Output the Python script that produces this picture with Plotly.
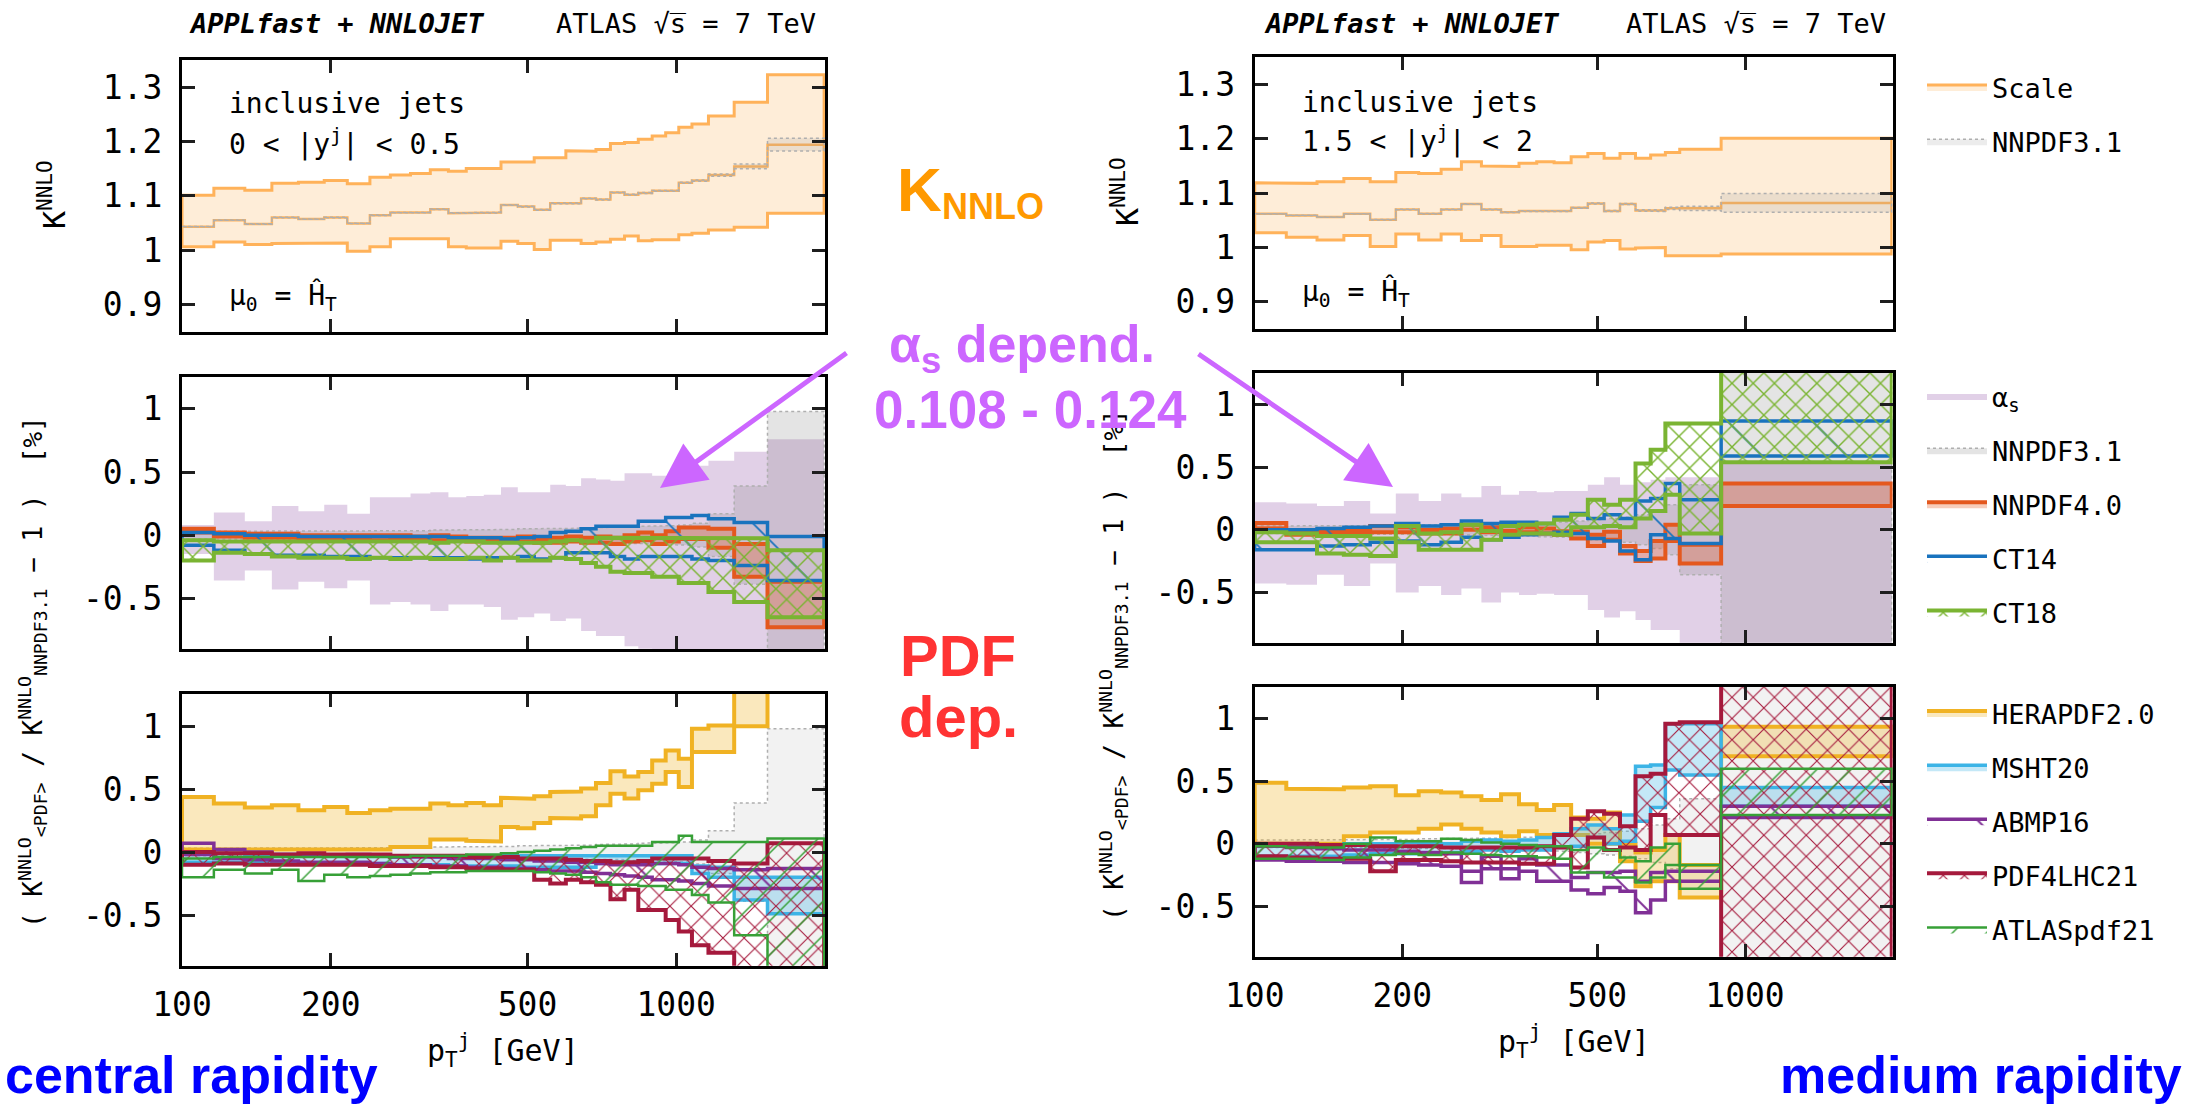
import plotly.graph_objects as go

W, H = 2193, 1106

# ---------------- data ----------------
L_EDGES = [100, 116, 134, 152, 172, 194, 216, 240, 264, 290, 318, 346, 376, 408, 442, 478,
           516, 556, 598, 642, 688, 736, 786, 838, 894, 952, 1012, 1076, 1162, 1310, 1530, 1992]
R_EDGES = [100, 116, 134, 152, 172, 194, 216, 240, 264, 290, 318, 346, 376, 408, 442, 478,
           516, 556, 598, 642, 688, 736, 894, 1992]

# central rapidity, K-factor (scale band)
L_SCALE_UP = [1.101, 1.114, 1.110, 1.123, 1.125, 1.128, 1.122, 1.134, 1.138, 1.141, 1.148, 1.145, 1.150, 1.150,
              1.162, 1.162, 1.170, 1.170, 1.183, 1.182, 1.185, 1.196, 1.198, 1.204, 1.210, 1.216, 1.226, 1.232,
              1.247, 1.272, 1.323]
L_SCALE_LO = [1.006, 1.015, 1.010, 1.012, 1.012, 1.013, 0.998, 1.006, 1.021, 1.021, 1.021, 1.006, 1.004, 1.004,
              1.016, 1.012, 1.001, 1.018, 1.018, 1.012, 1.015, 1.020, 1.026, 1.017, 1.019, 1.019, 1.028, 1.031,
              1.037, 1.042, 1.068]
L_CENTRAL = [1.043, 1.055, 1.048, 1.060, 1.057, 1.060, 1.049, 1.064, 1.069, 1.069, 1.075, 1.068, 1.069, 1.069,
             1.083, 1.080, 1.074, 1.086, 1.086, 1.095, 1.093, 1.106, 1.102, 1.105, 1.109, 1.109, 1.124, 1.128,
             1.138, 1.154, 1.194]
L_NN31_HW = [0.03, 0.03, 0.03, 0.03, 0.03, 0.03, 0.03, 0.035, 0.035, 0.035, 0.04, 0.04, 0.04, 0.045, 0.045,
             0.05, 0.05, 0.05, 0.055, 0.055, 0.06, 0.06, 0.065, 0.07, 0.07, 0.075, 0.08, 0.095, 0.17, 0.39, 0.98]

# central rapidity, middle panel (%)
L_AS_UP = [0.08, 0.18, 0.11, 0.23, 0.19, 0.24, 0.17, 0.30, 0.30, 0.33, 0.34, 0.30, 0.31, 0.32, 0.38, 0.34,
           0.34, 0.40, 0.39, 0.45, 0.44, 0.43, 0.49, 0.49, 0.47, 0.47, 0.55, 0.55, 0.59, 0.66, 0.76]
L_AS_LO = [-0.15, -0.36, -0.28, -0.43, -0.37, -0.42, -0.36, -0.55, -0.53, -0.55, -0.60, -0.55, -0.55, -0.57,
           -0.67, -0.65, -0.62, -0.68, -0.66, -0.76, -0.80, -0.80, -0.88, -0.90, -0.92, -0.92, -1.0, -1.0,
           -1.0, -1.1, -1.2]
L_NN40_UP = [0.05, 0.02, 0.01, 0.01, 0.0, 0.0, 0.0, 0.0, 0.0, -0.01, 0.0, -0.01, -0.02, -0.02, -0.02, -0.01,
             -0.03, -0.02, -0.01, -0.02, -0.01, -0.02, 0.0, 0.02, 0.0, 0.03, 0.06, 0.06, 0.05, -0.07, -0.37]
L_NN40_LO = [0.02, -0.01, -0.02, -0.02, -0.03, -0.03, -0.03, -0.04, -0.03, -0.04, -0.04, -0.04, -0.05, -0.05,
             -0.05, -0.05, -0.06, -0.06, -0.05, -0.06, -0.06, -0.07, -0.05, -0.04, -0.07, -0.05, -0.03, -0.03,
             -0.10, -0.33, -0.73]
L_CT14_UP = [0.02, 0.01, 0.0, 0.0, -0.01, -0.01, -0.01, -0.01, -0.01, -0.01, -0.01, -0.02, -0.02, -0.02,
             -0.03, -0.02, -0.01, 0.02, 0.03, 0.05, 0.07, 0.07, 0.07, 0.11, 0.11, 0.14, 0.14, 0.155, 0.13,
             0.10, -0.01]
L_CT14_LO = [-0.08, -0.12, -0.15, -0.16, -0.16, -0.17, -0.17, -0.18, -0.18, -0.18, -0.18, -0.18, -0.19, -0.18,
             -0.18, -0.17, -0.19, -0.18, -0.14, -0.14, -0.14, -0.17, -0.19, -0.17, -0.17, -0.17, -0.17, -0.19,
             -0.20, -0.24, -0.36]
L_CT18_UP = [-0.04, -0.05, -0.05, -0.05, -0.05, -0.05, -0.05, -0.05, -0.05, -0.05, -0.06, -0.05, -0.05, -0.06,
             -0.06, -0.06, -0.06, -0.05, -0.04, -0.05, -0.02, -0.02, -0.02, -0.02, -0.02, -0.02, -0.02, -0.02,
             -0.025, -0.025, -0.12]
L_CT18_LO = [-0.20, -0.14, -0.15, -0.17, -0.18, -0.18, -0.19, -0.18, -0.19, -0.18, -0.19, -0.19, -0.18, -0.20,
             -0.18, -0.20, -0.20, -0.18, -0.19, -0.22, -0.25, -0.29, -0.30, -0.30, -0.33, -0.33, -0.38, -0.38,
             -0.45, -0.53, -0.65]

# central rapidity, bottom panel (%)
L_HERA_UP = [0.437, 0.385, 0.353, 0.372, 0.332, 0.358, 0.311, 0.332, 0.345, 0.345, 0.385, 0.372, 0.39, 0.372,
             0.431, 0.424, 0.443, 0.477, 0.48, 0.504, 0.548, 0.641, 0.601, 0.636, 0.728, 0.807, 0.741, 0.979,
             1.005, 1.40, 1.60]
L_HERA_LO = [0.02, 0.02, 0.02, 0.02, 0.02, 0.02, 0.02, 0.02, 0.04, 0.04, 0.10, 0.10, 0.09, 0.085, 0.20, 0.19,
             0.23, 0.27, 0.266, 0.284, 0.372, 0.464, 0.425, 0.49, 0.543, 0.636, 0.517, 0.794, 0.794, 0.998, 1.30]
L_MSHT_UP = [0.0, -0.01, -0.02, -0.02, -0.03, -0.03, -0.03, -0.03, -0.04, -0.03, -0.04, -0.04, -0.04, -0.04,
             -0.03, -0.03, -0.03, -0.03, -0.03, -0.03, -0.03, -0.03, -0.03, -0.03, -0.03, -0.03, -0.03, -0.11,
             -0.12, -0.2, -0.2]
L_MSHT_LO = [-0.08, -0.08, -0.08, -0.08, -0.09, -0.09, -0.09, -0.09, -0.10, -0.10, -0.10, -0.11, -0.11, -0.11,
             -0.11, -0.12, -0.12, -0.12, -0.12, -0.12, -0.09, -0.09, -0.09, -0.09, -0.09, -0.09, -0.09, -0.17,
             -0.20, -0.38, -0.49]
L_ABMP_UP = [0.07, 0.02, 0.0, -0.02, -0.02, -0.03, -0.02, -0.03, -0.04, -0.04, -0.04, -0.05, -0.05, -0.05,
             -0.06, -0.06, -0.07, -0.07, -0.08, -0.08, -0.09, -0.10, -0.10, -0.10, -0.09, -0.09, -0.10, -0.12,
             -0.13, -0.14, -0.13]
L_ABMP_LO = [-0.02, -0.05, -0.06, -0.07, -0.08, -0.08, -0.08, -0.09, -0.10, -0.10, -0.11, -0.11, -0.12, -0.12,
             -0.13, -0.13, -0.14, -0.15, -0.15, -0.16, -0.17, -0.18, -0.19, -0.20, -0.22, -0.22, -0.23, -0.25,
             -0.27, -0.29, -0.29]
L_PDF4_UP = [0.0, -0.01, -0.01, -0.02, -0.01, -0.02, -0.02, -0.02, -0.03, -0.03, -0.03, -0.03, -0.04, -0.04,
             -0.04, -0.05, -0.05, -0.05, -0.06, -0.07, -0.07, -0.08, -0.08, -0.07, -0.05, -0.05, -0.05, -0.05,
             -0.07, -0.09, 0.07]
L_PDF4_LO = [-0.10, -0.09, -0.10, -0.10, -0.10, -0.10, -0.10, -0.11, -0.11, -0.11, -0.12, -0.12, -0.13, -0.13,
             -0.14, -0.14, -0.22, -0.25, -0.22, -0.24, -0.26, -0.375, -0.30, -0.46, -0.46, -0.54, -0.63, -0.74,
             -0.80, -1.0, -1.0]
L_ATL_UP = [-0.05, -0.04, -0.04, -0.04, -0.04, -0.04, -0.04, -0.04, -0.04, -0.03, -0.03, -0.03, -0.02, -0.02,
            -0.01, 0.0, 0.01, 0.02, 0.03, 0.04, 0.05, 0.05, 0.05, 0.05, 0.08, 0.08, 0.13, 0.08, 0.08, 0.08, 0.107]
L_ATL_LO = [-0.20, -0.14, -0.17, -0.14, -0.23, -0.18, -0.20, -0.19, -0.18, -0.17, -0.16, -0.16, -0.15, -0.15,
            -0.15, -0.15, -0.16, -0.17, -0.18, -0.20, -0.24, -0.26, -0.26, -0.27, -0.27, -0.30, -0.30, -0.34,
            -0.40, -0.66, -1.0]

# medium rapidity, K-factor
R_SCALE_UP = [1.119, 1.118, 1.121, 1.127, 1.121, 1.138, 1.136, 1.144, 1.158, 1.150, 1.149, 1.155, 1.158, 1.156,
              1.167, 1.173, 1.164, 1.173, 1.164, 1.170, 1.175, 1.181, 1.201]
R_SCALE_LO = [1.027, 1.019, 1.014, 1.022, 1.002, 1.025, 1.014, 1.025, 1.013, 1.022, 1.002, 1.002, 1.004, 1.004,
              0.996, 1.010, 1.013, 0.997, 0.999, 1.000, 0.985, 0.985, 0.988]
R_CENTRAL = [1.062, 1.059, 1.056, 1.062, 1.051, 1.070, 1.062, 1.070, 1.080, 1.070, 1.065, 1.067, 1.068, 1.067,
             1.073, 1.081, 1.067, 1.080, 1.068, 1.068, 1.072, 1.072, 1.082]
R_NN31_HW = [0.03, 0.03, 0.03, 0.03, 0.035, 0.035, 0.04, 0.04, 0.04, 0.045, 0.05, 0.05, 0.055, 0.06, 0.07,
             0.08, 0.09, 0.1, 0.12, 0.15, 0.2, 0.36, 1.6]

R_AS_UP = [0.22, 0.21, 0.19, 0.23, 0.13, 0.29, 0.23, 0.29, 0.26, 0.35, 0.28, 0.31, 0.30, 0.31, 0.31, 0.36,
           0.42, 0.36, 0.38, 0.40, 0.42, 0.42, 0.53]
R_AS_LO = [-0.43, -0.44, -0.36, -0.45, -0.27, -0.50, -0.45, -0.52, -0.47, -0.58, -0.50, -0.52, -0.51, -0.52,
           -0.52, -0.64, -0.70, -0.65, -0.72, -0.80, -0.80, -1.0, -1.1]
R_NN40_UP = [0.054, -0.01, -0.01, -0.01, 0.03, 0.02, 0.0, 0.01, 0.04, 0.02, 0.03, 0.02, 0.01, -0.01, -0.015,
             -0.04, -0.015, -0.13, -0.17, -0.09, 0.04, -0.12, 0.37]
R_NN40_LO = [0.01, -0.04, -0.04, -0.04, -0.02, -0.02, -0.03, -0.03, 0.0, -0.02, -0.01, -0.02, -0.03, -0.04,
             -0.07, -0.13, -0.08, -0.19, -0.25, -0.23, -0.09, -0.27, 0.19]
R_CT14_UP = [0.0, 0.0, 0.01, 0.02, 0.03, 0.05, 0.03, 0.04, 0.07, 0.05, 0.06, 0.06, 0.05, 0.10, 0.13, 0.09,
             0.12, 0.09, 0.23, 0.25, 0.37, 0.24, 0.87]
R_CT14_LO = [-0.16, -0.16, -0.13, -0.12, -0.10, -0.09, -0.12, -0.10, -0.06, -0.08, -0.06, -0.04, -0.03, -0.02,
             -0.03, -0.07, -0.09, -0.17, -0.24, -0.04, -0.07, -0.11, 0.59]
R_CT18_UP = [-0.02, -0.03, -0.05, -0.05, -0.07, 0.03, -0.03, -0.02, 0.04, -0.01, 0.03, 0.04, 0.05, 0.08, 0.12,
             0.24, 0.20, 0.24, 0.53, 0.64, 0.85, 0.85, 1.4]
R_CT18_LO = [-0.10, -0.10, -0.19, -0.20, -0.21, -0.10, -0.16, -0.16, -0.16, -0.08, -0.04, -0.03, -0.03, -0.04,
             0.02, 0.02, 0.03, 0.02, 0.09, 0.15, 0.28, -0.03, 0.54]

R_HERA_UP = [0.488, 0.44, 0.435, 0.45, 0.46, 0.387, 0.42, 0.41, 0.38, 0.35, 0.395, 0.315, 0.27, 0.31, 0.21,
             0.20, 0.25, 0.0, -0.07, -0.05, 0.07, -0.17, 0.936]
R_HERA_LO = [0.0, 0.0, 0.0, 0.06, 0.09, 0.09, 0.12, 0.155, 0.12, 0.09, 0.06, 0.10, 0.07, 0.07, 0.07, 0.0, 0.0,
             -0.14, -0.34, -0.30, -0.30, -0.43, 0.70]
R_MSHT_UP = [0.0, -0.01, -0.01, 0.0, 0.0, 0.01, 0.0, 0.0, 0.02, 0.03, 0.02, 0.03, 0.05, 0.08, 0.12, 0.15, 0.12,
             0.23, 0.62, 0.63, 0.96, 0.96, 0.45]
R_MSHT_LO = [-0.10, -0.10, -0.10, -0.09, -0.08, -0.08, -0.08, -0.07, -0.06, -0.05, -0.06, -0.05, -0.05, -0.03,
             -0.02, 0.05, 0.0, 0.02, 0.18, 0.29, 0.59, 0.55, 0.30]
R_ABMP_UP = [-0.02, -0.03, -0.04, -0.05, -0.05, -0.06, -0.07, -0.08, -0.22, -0.10, -0.20, -0.12, -0.17, -0.17,
             -0.27, -0.23, -0.23, -0.22, -0.30, -0.23, -0.22, -0.22, 0.30]
R_ABMP_LO = [-0.13, -0.14, -0.14, -0.15, -0.15, -0.16, -0.17, -0.18, -0.31, -0.20, -0.28, -0.22, -0.30, -0.30,
             -0.37, -0.40, -0.35, -0.38, -0.55, -0.45, -0.30, -0.30, 0.21]
R_PDF4_UP = [0.0, 0.0, -0.01, -0.01, -0.02, -0.02, -0.02, -0.03, -0.03, -0.03, -0.03, -0.03, -0.02, 0.07, 0.2,
             0.26, 0.24, 0.14, 0.54, 0.56, 0.96, 0.97, 1.5]
R_PDF4_LO = [-0.10, -0.11, -0.12, -0.12, -0.22, -0.13, -0.13, -0.14, -0.15, -0.15, -0.15, -0.16, -0.16, -0.03,
             -0.19, 0.05, -0.05, -0.03, -0.05, 0.23, 0.07, 0.07, -1.5]
R_ATL_UP = [-0.02, -0.03, -0.03, 0.0, 0.05, 0.02, 0.02, 0.04, 0.03, 0.01, 0.0, -0.01, -0.02, -0.02, -0.05,
            -0.03, -0.05, -0.11, -0.14, -0.03, 0.0, -0.17, 0.60]
R_ATL_LO = [-0.12, -0.12, -0.13, -0.11, -0.09, -0.08, -0.09, -0.07, -0.08, -0.09, -0.10, -0.10, -0.11, -0.12,
            -0.23, -0.23, -0.27, -0.27, -0.31, -0.27, -0.17, -0.36, 0.23]

X_TICKS = [100, 200, 500, 1000]
K_TICKS = [0.9, 1.0, 1.1, 1.2, 1.3]
K_TICK_TEXT = ["0.9", "1", "1.1", "1.2", "1.3"]
R_TICKS = [-0.5, 0, 0.5, 1]
R_TICK_TEXT = ["-0.5", "0", "0.5", "1"]

# ---------------- styles ----------------
C_SCALE = "rgb(255,178,90)"
C_SCALE_F = "rgba(253,225,190,0.6)"
C_NN31 = "rgb(175,175,175)"
C_AS_F = "rgba(214,190,222,0.72)"
C_AS_L = "rgb(140,60,160)"
C_NN40 = "rgb(228,88,30)"
C_CT14 = "rgb(25,115,190)"
C_CT18 = "rgb(122,180,50)"
C_HERA = "rgb(240,178,35)"
C_MSHT = "rgb(60,180,230)"
C_ABMP = "rgb(128,48,150)"
C_PDF4 = "rgb(165,25,60)"
C_ATL = "rgb(55,160,55)"
MONO = "DejaVu Sans Mono"
SANS = "Liberation Sans"

for arr, n in [(L_SCALE_UP, 31), (L_SCALE_LO, 31), (L_CENTRAL, 31), (L_NN31_HW, 31), (L_AS_UP, 31),
               (L_AS_LO, 31), (L_NN40_UP, 31), (L_NN40_LO, 31), (L_CT14_UP, 31), (L_CT14_LO, 31),
               (L_CT18_UP, 31), (L_CT18_LO, 31), (L_HERA_UP, 31), (L_HERA_LO, 31), (L_MSHT_UP, 31),
               (L_MSHT_LO, 31), (L_ABMP_UP, 31), (L_ABMP_LO, 31), (L_PDF4_UP, 31), (L_PDF4_LO, 31),
               (L_ATL_UP, 31), (L_ATL_LO, 31),
               (R_SCALE_UP, 23), (R_SCALE_LO, 23), (R_CENTRAL, 23), (R_NN31_HW, 23), (R_AS_UP, 23),
               (R_AS_LO, 23), (R_NN40_UP, 23), (R_NN40_LO, 23), (R_CT14_UP, 23), (R_CT14_LO, 23),
               (R_CT18_UP, 23), (R_CT18_LO, 23), (R_HERA_UP, 23), (R_HERA_LO, 23), (R_MSHT_UP, 23),
               (R_MSHT_LO, 23), (R_ABMP_UP, 23), (R_ABMP_LO, 23), (R_PDF4_UP, 23), (R_PDF4_LO, 23),
               (R_ATL_UP, 23), (R_ATL_LO, 23)]:
    assert len(arr) == n, (len(arr), n)


def step_band(edges, lo, hi):
    xs, ys = [], []
    for i in range(len(hi)):
        xs += [edges[i], edges[i + 1]]
        ys += [hi[i], hi[i]]
    for i in range(len(lo) - 1, -1, -1):
        xs += [edges[i + 1], edges[i]]
        ys += [lo[i], lo[i]]
    xs.append(xs[0])
    ys.append(ys[0])
    return xs, ys


def step_line(edges, vals):
    xs, ys = [], []
    for i in range(len(vals)):
        xs += [edges[i], edges[i + 1]]
        ys += [vals[i], vals[i]]
    return xs, ys


def band(edges, lo, hi, ax, name, lc, lw, fc, pattern=None, dash="solid", legend=None):
    xs, ys = step_band(edges, lo, hi)
    kw = dict(x=xs, y=ys, xaxis="x" + ax, yaxis="y" + ax, mode="lines", fill="toself", fillcolor=fc,
              line=dict(color=lc, width=lw, dash=dash), name=name, hoverinfo="skip",
              showlegend=legend is not None)
    if legend:
        kw["legend"] = legend
        kw["legendgroup"] = legend + name
    if pattern:
        kw["fillpattern"] = pattern
    return go.Scatter(**kw)


def pat(shape, color, size, solidity):
    return dict(shape=shape, fgcolor=color, bgcolor="rgba(0,0,0,0)", size=size, solidity=solidity,
                fillmode="replace")


fig = go.Figure()

columns = [
    dict(edges=L_EDGES, ax=("", "2", "3"), leg=False,
         sup=L_SCALE_UP, slo=L_SCALE_LO, cen=L_CENTRAL, hw=L_NN31_HW,
         asu=L_AS_UP, asl=L_AS_LO, n4u=L_NN40_UP, n4l=L_NN40_LO, c14u=L_CT14_UP, c14l=L_CT14_LO,
         c18u=L_CT18_UP, c18l=L_CT18_LO, heu=L_HERA_UP, hel=L_HERA_LO, msu=L_MSHT_UP, msl=L_MSHT_LO,
         abu=L_ABMP_UP, abl=L_ABMP_LO, p4u=L_PDF4_UP, p4l=L_PDF4_LO, atu=L_ATL_UP, atl=L_ATL_LO),
    dict(edges=R_EDGES, ax=("4", "5", "6"), leg=True,
         sup=R_SCALE_UP, slo=R_SCALE_LO, cen=R_CENTRAL, hw=R_NN31_HW,
         asu=R_AS_UP, asl=R_AS_LO, n4u=R_NN40_UP, n4l=R_NN40_LO, c14u=R_CT14_UP, c14l=R_CT14_LO,
         c18u=R_CT18_UP, c18l=R_CT18_LO, heu=R_HERA_UP, hel=R_HERA_LO, msu=R_MSHT_UP, msl=R_MSHT_LO,
         abu=R_ABMP_UP, abl=R_ABMP_LO, p4u=R_PDF4_UP, p4l=R_PDF4_LO, atu=R_ATL_UP, atl=R_ATL_LO),
]

for c in columns:
    e = c["edges"]
    a1, a2, a3 = c["ax"]
    lg = c["leg"]
    # --- top: K factor ---
    fig.add_trace(band(e, c["slo"], c["sup"], a1, "Scale", C_SCALE, 3, C_SCALE_F,
                       legend="legend" if lg else None))
    xs, ys = step_line(e, c["cen"])
    fig.add_trace(go.Scatter(x=xs, y=ys, xaxis="x" + a1, yaxis="y" + a1, mode="lines",
                             line=dict(color=C_SCALE, width=2.5), showlegend=False, hoverinfo="skip"))
    nlo = [k * (1 - h / 100.0) for k, h in zip(c["cen"], c["hw"])]
    nhi = [k * (1 + h / 100.0) for k, h in zip(c["cen"], c["hw"])]
    fig.add_trace(band(e, nlo, nhi, a1, "NNPDF3.1", C_NN31, 1.5, "rgba(150,150,150,0.18)", dash="dot",
                       legend="legend" if lg else None))
    # --- middle: alpha_s & PDF sets ---
    fig.add_trace(band(e, c["asl"], c["asu"], a2, "α<sub>s</sub>", C_AS_L, 0, C_AS_F,
                       legend="legend2" if lg else None))
    mhw = [-h for h in c["hw"]]
    fig.add_trace(band(e, mhw, c["hw"], a2, "NNPDF3.1", C_NN31, 1.5, "rgba(120,120,120,0.2)", dash="dot",
                       legend="legend2" if lg else None))
    fig.add_trace(band(e, c["n4l"], c["n4u"], a2, "NNPDF4.0", C_NN40, 4, "rgba(228,88,30,0.3)",
                       legend="legend2" if lg else None))
    fig.add_trace(band(e, c["c14l"], c["c14u"], a2, "CT14", C_CT14, 3.5, "rgba(0,0,0,0)",
                       pattern=pat("\\", C_CT14, 60, 0.03), legend="legend2" if lg else None))
    fig.add_trace(band(e, c["c18l"], c["c18u"], a2, "CT18", C_CT18, 4, "rgba(0,0,0,0)",
                       pattern=pat("x", C_CT18, 15, 0.18), legend="legend2" if lg else None))
    # --- bottom: more PDF sets ---
    fig.add_trace(band(e, mhw, c["hw"], a3, "NNPDF3.1", C_NN31, 1.5, "rgba(150,150,150,0.12)", dash="dot"))
    fig.add_trace(band(e, c["hel"], c["heu"], a3, "HERAPDF2.0", C_HERA, 4, "rgba(240,178,35,0.3)",
                       legend="legend3" if lg else None))
    fig.add_trace(band(e, c["msl"], c["msu"], a3, "MSHT20", C_MSHT, 3.5, "rgba(60,180,230,0.3)",
                       legend="legend3" if lg else None))
    fig.add_trace(band(e, c["abl"], c["abu"], a3, "ABMP16", C_ABMP, 3.5, "rgba(0,0,0,0)",
                       pattern=pat("\\", C_ABMP, 40, 0.05), legend="legend3" if lg else None))
    fig.add_trace(band(e, c["p4l"], c["p4u"], a3, "PDF4LHC21", C_PDF4, 4, "rgba(0,0,0,0)",
                       pattern=pat("x", C_PDF4, 15, 0.14), legend="legend3" if lg else None))
    fig.add_trace(band(e, c["atl"], c["atu"], a3, "ATLASpdf21", C_ATL, 2.5, "rgba(0,0,0,0)",
                       pattern=pat("/", C_ATL, 24, 0.06), legend="legend3" if lg else None))

# ---------------- axes ----------------
def px_x(v):
    return v / W


def px_y(v):
    return 1 - v / H


XL = [px_x(182), px_x(825)]
XR = [px_x(1254.7), px_x(1892.6)]
DOMS = {
    "": (XL, [px_y(331.5), px_y(60)]),
    "2": (XL, [px_y(649), px_y(376.7)]),
    "3": (XL, [px_y(965.7), px_y(694)]),
    "4": (XR, [px_y(329), px_y(57.3)]),
    "5": (XR, [px_y(642.7), px_y(372.7)]),
    "6": (XR, [px_y(956.7), px_y(686.7)]),
}
axis_common = dict(showline=True, linewidth=3, linecolor="black", mirror="ticks", ticks="inside",
                   ticklen=13, tickwidth=2.5, tickcolor="rgb(30,30,30)", showgrid=False, zeroline=False,
                   automargin=False, tickfont=dict(family=MONO, size=33, color="black"))
lay = {}
for k, (xd, yd) in DOMS.items():
    bottom = k in ("3", "6")
    top = k in ("", "4")
    lay["xaxis" + k] = dict(axis_common, domain=xd, type="log", range=[2, 3.30103], tickvals=X_TICKS,
                            ticktext=[str(t) for t in X_TICKS], showticklabels=bottom,
                            anchor="y" + k, ticklabelstandoff=8)
    if top:
        yr = dict(range=[0.85, 1.35], tickvals=K_TICKS, ticktext=K_TICK_TEXT)
    else:
        yr = dict(range=[-0.902, 1.255], tickvals=R_TICKS, ticktext=R_TICK_TEXT)
    lay["yaxis" + k] = dict(axis_common, domain=yd, anchor="x" + k, ticklabelstandoff=10, **yr)

fig.update_layout(**lay)

# ---------------- annotations ----------------
ann = []


def text(x, y, s, size, color="black", family=MONO, xanchor="left", yanchor="middle", angle=0):
    ann.append(dict(x=px_x(x), y=px_y(y), xref="paper", yref="paper", text=s, showarrow=False,
                    font=dict(family=family, size=size, color=color), xanchor=xanchor, yanchor=yanchor,
                    textangle=angle))


for x0, x1 in [(187, 818), (1262, 1888)]:
    text(x0, 23, "<b><i>APPLfast + NNLOJET</i></b>", 27)
    text(x1, 23, "ATLAS √s\u0305 = 7 TeV", 27, xanchor="right")

text(227, 103, "inclusive jets", 28)
text(227, 142, "0 < |y<sup>j</sup>| < 0.5", 28)
text(227, 297, "μ<sub>0</sub> = Ĥ<sub>T</sub>", 28)
text(1300, 102, "inclusive jets", 28)
text(1300, 139, "1.5 < |y<sup>j</sup>| < 2", 28)
text(1300, 293, "μ<sub>0</sub> = Ĥ<sub>T</sub>", 28)

# axis titles
text(52, 195, "K<sup>NNLO</sup>", 30, xanchor="center", angle=-90)
text(1126, 192, "K<sup>NNLO</sup>", 30, xanchor="center", angle=-90)
ytitle = "( K<sup>NNLO</sup><sub>&lt;PDF&gt;</sub> / K<sup>NNLO</sup><sub>NNPDF3.1</sub> − 1 )  [%]"
text(32, 672, ytitle, 26, xanchor="center", angle=-90)
text(1113, 665, ytitle, 26, xanchor="center", angle=-90)
text(503, 1050, "p<sub>T</sub><sup>j</sup> [GeV]", 30, xanchor="center")
text(1574, 1041, "p<sub>T</sub><sup>j</sup> [GeV]", 30, xanchor="center")

# highlight labels
text(895, 190, "<b>K</b>", 62, color="rgb(255,153,0)", family=SANS)
text(940, 206, "<b>NNLO</b>", 36, color="rgb(255,153,0)", family=SANS)
text(1022, 348, "<b>α<sub>s</sub> depend.</b>", 52, color="rgb(204,102,255)", family=SANS, xanchor="center")
text(1030, 409, "<b>0.108 - 0.124</b>", 53, color="rgb(204,102,255)", family=SANS, xanchor="center")
text(958, 655, "<b>PDF</b>", 58, color="rgb(255,51,51)", family=SANS, xanchor="center")
text(958, 716, "<b>dep.</b>", 58, color="rgb(255,51,51)", family=SANS, xanchor="center")
text(3, 1075, "<b>central rapidity</b>", 52, color="rgb(0,0,255)", family=SANS)
text(2184, 1075, "<b>medium rapidity</b>", 52, color="rgb(0,0,255)", family=SANS, xanchor="right")

# arrows
for hx, hy, tx, ty in [(660, 488, 848, 352), (1393, 487, 1197, 353)]:
    ann.append(dict(x=px_x(hx), y=px_y(hy), xref="paper", yref="paper", ax=tx - hx, ay=ty - hy,
                    axref="pixel", ayref="pixel", text="", showarrow=True, arrowhead=2, arrowsize=1.8,
                    arrowwidth=5, arrowcolor="rgb(204,102,255)"))

fig.update_layout(annotations=ann)

leg_common = dict(font=dict(family=MONO, size=27, color="black"), bgcolor="rgba(0,0,0,0)",
                  xanchor="left", yanchor="top", itemwidth=60, tracegroupgap=16, traceorder="grouped",
                  itemclick=False, itemdoubleclick=False)
fig.update_layout(
    width=W, height=H, margin=dict(l=0, r=0, t=0, b=0, autoexpand=False),
    paper_bgcolor="white", plot_bgcolor="white",
    legend=dict(leg_common, x=px_x(1922), y=px_y(63)),
    legend2=dict(leg_common, x=px_x(1922), y=px_y(372)),
    legend3=dict(leg_common, x=px_x(1922), y=px_y(689)),
)

fig.write_html("out.html")
